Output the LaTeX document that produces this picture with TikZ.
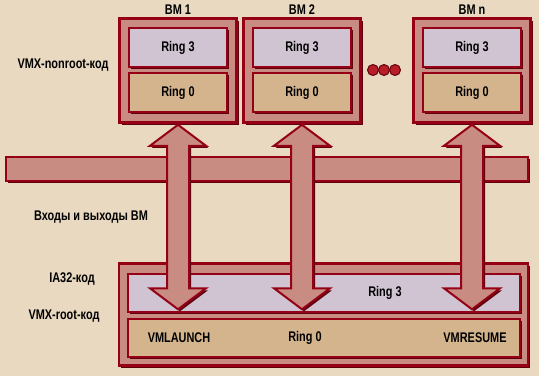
\documentclass[tikz,border=0pt]{standalone}
\usepackage{fontspec}
\newfontfamily\labelfont[FakeStretch=0.78]{Liberation Sans}
\usetikzlibrary{positioning, calc, shadows}
\definecolor{paper}{RGB}{233, 217, 193}
\definecolor{edgered}{RGB}{150, 0, 22}
\definecolor{shadered}{RGB}{95, 0, 12}
\definecolor{framepink}{RGB}{200, 140, 130}
\definecolor{ringthree}{RGB}{208, 196, 210}
\definecolor{ringzero}{RGB}{212, 180, 140}
\definecolor{dotred}{RGB}{185, 30, 40}

\tikzset{
    lbl/.style={font=\labelfont\bfseries\fontsize{14}{16}\selectfont, text=black, inner sep=0pt},
    shadowed/.style={drop shadow={shadow xshift=2pt, shadow yshift=-2pt, fill=shadered, opacity=1}},
    vmframe/.style={shadowed, draw=edgered, line width=2.5pt, fill=framepink, minimum width=117pt, minimum height=104pt, inner sep=0pt},
    ringbox/.style={shadowed, draw=edgered, line width=2.5pt, fill=#1, minimum width=98pt, minimum height=39pt, inner sep=0pt},
    bigarrow/.style={shadowed, draw=edgered, line width=2pt, fill=framepink, line join=miter},
}

\begin{document}
\begin{tikzpicture}[x=1pt, y=-1pt]
    \fill[paper] (0,0) rectangle (539,376);
    \useasboundingbox (0,0) rectangle (539,376);

    % virtual machines
    \foreach \v/\x/\n in {vm1/178/1, vm2/302/2, vmn/472/n} {
        \node[vmframe] (\v) at (\x, 70.5) {};
        \node[ringbox=ringthree, lbl] (\v3) at (\x, 47.5) {Ring 3};
        \node[ringbox=ringzero, lbl] (\v0) at (\x, 92.5) {Ring 0};
        \node[lbl, above=3pt of \v] {ВМ \n};
    }
    \foreach \x in {373, 384, 395}
        \draw[fill=dotred, draw=shadered, line width=1pt] (\x, 70) circle (5.5);

    % host (VMX root)
    \node[vmframe, minimum width=409pt, minimum height=102pt] (host) at (323.5, 314.5) {};
    \node[ringbox=ringthree, minimum width=392pt, minimum height=38pt] (host3) at (324, 293) {};
    \node[ringbox=ringzero, minimum width=392pt, minimum height=38pt] (host0) at (324, 338) {};
    \node[lbl] (r3) at (385, 293) {Ring 3};
    \node[lbl] (launch) at (179, 338) {VMLAUNCH};
    \node[lbl] (r0) at (305, 338) {Ring 0};
    \node[lbl] (resume) at (475, 338) {VMRESUME};

    % transition bus
    \node[shadowed, draw=edgered, line width=2pt, fill=framepink, minimum width=522pt, minimum height=24pt, inner sep=0pt] (bus) at (266.5, 168.5) {};

    % entries and exits
    \foreach \v in {vm1, vm2, vmn}
        \draw[bigarrow] let \p1=(\v.south), \p2=(host3.south) in
            (\x1, \y1-1pt) -- (\x1+28pt, \y1-22pt) -- (\x1+11pt, \y1-22pt)
            -- (\x1+11pt, \y2+25pt) -- (\x1+28pt, \y2+25pt) -- (\x1, \y2+4pt)
            -- (\x1-28pt, \y2+25pt) -- (\x1-11pt, \y2+25pt)
            -- (\x1-11pt, \y1-22pt) -- (\x1-28pt, \y1-22pt) -- cycle;

    % side labels
    \node[lbl] (nonroot) at (63, 65) {VMX-nonroot-код};
    \node[lbl] (exits) at (91, 217) {Входы и выходы ВМ};
    \node[lbl] (ia32) at (72, 279) {IA32-код};
    \node[lbl] (root) at (64, 316) {VMX-root-код};
\end{tikzpicture}
\end{document}
